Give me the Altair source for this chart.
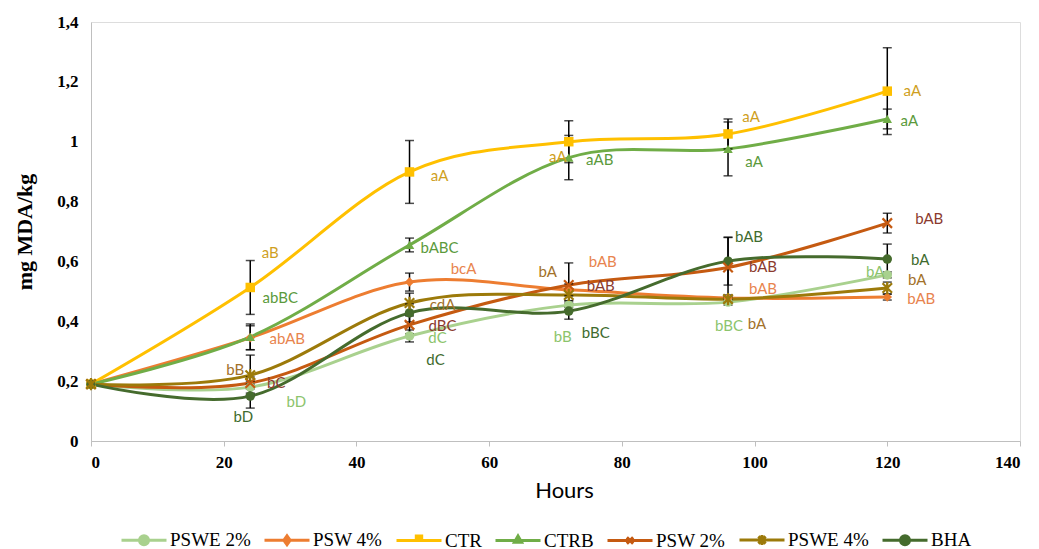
import altair as alt
import pandas as pd

# ---------------- data ----------------
HOURS = [0, 24, 48, 72, 96, 120]
SERIES = ["PSWE 2%", "PSW 4%", "CTR", "CTRB", "PSW 2%", "PSWE 4%", "BHA"]

PSWE2 = [0.19, 0.18, 0.351, 0.454, 0.464, 0.555]
PSW4 = [0.19, 0.345, 0.531, 0.505, 0.478, 0.481]
CTR = [0.19, 0.513, 0.899, 1.0, 1.026, 1.169]
CTRB = [0.19, 0.348, 0.655, 0.947, 0.976, 1.076]
PSW2 = [0.19, 0.194, 0.388, 0.521, 0.58, 0.728]
PSWE4 = [0.19, 0.22, 0.461, 0.488, 0.474, 0.511]
BHA = [0.19, 0.15, 0.428, 0.434, 0.601, 0.608]

E_PSWE2 = [0, 0.02, 0.02, 0.015, 0.01, 0.01]
E_PSW4 = [0, 0.04, 0.03, 0.02, 0.01, 0.01]
E_CTR = [0, 0.09, 0.105, 0.07, 0.05, 0.145]
E_CTRB = [0, 0.043, 0.023, 0.074, 0.09, 0.033]
E_PSW2 = [0, 0.02, 0.03, 0.074, 0.1, 0.033]
E_PSWE4 = [0, 0.067, 0.033, 0.02, 0.01, 0.02]
E_BHA = [0, 0.04, 0.03, 0.027, 0.08, 0.05]

L_PSWE2 = ["", "bD", "dC", "bB", "bBC", "bA"]
L_PSW4 = ["", "abAB", "bcA", "bAB", "bAB", "bAB"]
L_CTR = ["", "aB", "aA", "aA", "aA", "aA"]
L_CTRB = ["", "abBC", "bABC", "aAB", "aA", "aA"]
L_PSW2 = ["", "bC", "dBC", "bAB", "bAB", "bAB"]
L_PSWE4 = ["", "bB", "cdA", "bA", "bA", "bA"]
L_BHA = ["", "bD", "dC", "bBC", "bAB", "bA"]

# ---------------- styling (not data) ----------------
COLORS = ["#A9D18E", "#ED7D31", "#FFC000", "#70AD47", "#C55A11", "#9C7A0A", "#456B2D"]
LABEL_COLORS = ["#8CC46C", "#E8844E", "#CF9F1E", "#5B9A3C", "#8B3A2E", "#A2712A", "#3E6B2E"]
XPATH = "M-1,-1L1,1M-1,1L1,-1"
STARPATH = "M-1,-1L1,1M-1,1L1,-1M0,-1.3L0,1.3"
SHAPES = ["circle", "diamond", "square", "triangle-up", XPATH, STARPATH, "circle"]
LEG_PATHS = [
    "M-1,0L1,0M0.2,0A0.2,0.2,0,1,1,-0.2,0A0.2,0.2,0,1,1,0.2,0Z",
    "M-1,0L1,0M0,-0.2L0.14,0L0,0.2L-0.14,0Z",
    "M-1,0L1,0M-0.12,-0.2L0.12,-0.2L0.12,0L-0.12,0Z",
    "M-1,0L1,0M0,-0.2L0.16,0.08L-0.16,0.08Z",
    "M-1,0L1,0M-0.14,-0.14L0.14,0.14M-0.14,0.14L0.14,-0.14",
    "M-1,0L1,0M-0.16,-0.16L0.16,0.16M-0.16,0.16L0.16,-0.16M0,-0.22L0,0.22",
    "M-1,0L1,0M0.2,0A0.2,0.2,0,1,1,-0.2,0A0.2,0.2,0,1,1,0.2,0Z",
]
# label offsets in pixels (dx, dy) relative to each point
OFF = {
    "PSWE 2%": [(0, 0), (46, 15), (28, 2), (-6, 32), (1, 24), (-12, -3)],
    "PSW 4%": [(0, 0), (37, 1), (54, -13), (34, -28), (35, -9), (34, 2)],
    "CTR": [(0, 0), (20, -34), (30, 4), (-11, 15), (23, -17), (25, 0)],
    "CTRB": [(0, 0), (30, -39), (30, 3), (31, 2), (26, 13), (22, 2)],
    "PSW 2%": [(0, 0), (26, 0), (33, 1), (32, 1), (35, 0), (42, -4)],
    "PSWE 4%": [(0, 0), (-15, -5), (33, 2), (-21, -23), (29, 25), (30, -8)],
    "BHA": [(0, 0), (-7, 21), (26, 47), (27, 22), (21, -24), (33, 1)],
}

W, H = 929, 419
PX_X = W / 140.0
PX_Y = H / 1.4

values = [PSWE2, PSW4, CTR, CTRB, PSW2, PSWE4, BHA]
errors = [E_PSWE2, E_PSW4, E_CTR, E_CTRB, E_PSW2, E_PSWE4, E_BHA]
letters = [L_PSWE2, L_PSW4, L_CTR, L_CTRB, L_PSW2, L_PSWE4, L_BHA]

rows, erows, lrows = [], [], []
for i, s in enumerate(SERIES):
    for j, h in enumerate(HOURS):
        v = values[i][j]
        rows.append({"series": s, "order": i, "hour": h, "value": v})
        e = errors[i][j]
        if e > 0:
            erows.append({"series": s, "hour": h, "lo": v - e, "hi": v + e})
        t = letters[i][j]
        if t:
            dx, dy = OFF[s][j]
            lrows.append({"series": s, "text": t, "lx": h + dx / PX_X,
                          "ly": v - dy / PX_Y, "col": LABEL_COLORS[i]})

df = pd.DataFrame(rows)
edf = pd.DataFrame(erows)
ldf = pd.DataFrame(lrows)

color_scale = alt.Scale(domain=SERIES, range=COLORS)
shape_scale = alt.Scale(domain=SERIES, range=SHAPES)
leg_shape_scale = alt.Scale(domain=SERIES, range=LEG_PATHS)

x_enc = alt.X("hour:Q", scale=alt.Scale(domain=[0, 140], nice=False),
              axis=alt.Axis(values=[0, 20, 40, 60, 80, 100, 120, 140], title="Hours",
                            grid=False, domainColor="#BFBFBF", tickColor="#BFBFBF",
                            tickSize=5, labelFont="Liberation Serif", labelFontWeight="bold",
                            labelFontSize=17, labelColor="black", labelPadding=8,
                            titleFont="Lato", titleFontSize=22, titleFontWeight="normal",
                            titleColor="black", titlePadding=10, titleX=473))
y_enc = alt.Y("value:Q", scale=alt.Scale(domain=[0, 1.4], nice=False),
              axis=alt.Axis(values=[0, 0.2, 0.4, 0.6, 0.8, 1.0, 1.2, 1.4],
                            labelExpr="replace(format(datum.value, '.1~f'), '.', ',')",
                            title="mg MDA/kg", grid=False, ticks=False, tickSize=0,
                            domainColor="#BFBFBF", labelFont="Liberation Serif",
                            labelFontWeight="bold", labelFontSize=17, labelColor="black",
                            labelPadding=13, titleFont="Liberation Serif",
                            titleFontSize=22, titleFontWeight="bold", titleColor="black",
                            titlePadding=20))

legend = alt.Legend(
    title=None, orient="none", legendX=29, legendY=494, direction="horizontal",
    columns=7, symbolSize=2025, symbolStrokeWidth=3, labelFont="Liberation Serif",
    labelFontSize=19, labelColor="black", labelOffset=2, columnPadding=7, padding=0,
    symbolOpacity=1,
)

base = alt.Chart(df)

lines = base.mark_line(interpolate="cardinal", tension=0, strokeWidth=3).encode(
    x=x_enc, y=y_enc,
    color=alt.Color("series:N", scale=color_scale, legend=None),
    order="hour:Q",
)

ebase = alt.Chart(edf)
erule = ebase.mark_rule(color="black", strokeWidth=1.5).encode(
    x="hour:Q", y="lo:Q", y2="hi:Q")
ecap_lo = ebase.mark_tick(color="black", thickness=1.5, size=9, orient="horizontal").encode(
    x="hour:Q", y="lo:Q")
ecap_hi = ebase.mark_tick(color="black", thickness=1.5, size=9, orient="horizontal").encode(
    x="hour:Q", y="hi:Q")

points = base.mark_point(filled=True, size=90, opacity=1).encode(
    x="hour:Q", y="value:Q",
    color=alt.Color("series:N", scale=color_scale, legend=None),
    shape=alt.Shape("series:N", scale=shape_scale, legend=None),
)

spoints = base.transform_filter(
    alt.FieldOneOfPredicate(field="series", oneOf=["PSW 2%", "PSWE 4%"])
).mark_point(filled=False, size=90, strokeWidth=2.2, opacity=1).encode(
    x="hour:Q", y="value:Q",
    color=alt.Color("series:N", scale=color_scale, legend=None),
    shape=alt.Shape("series:N", scale=shape_scale, legend=None),
)

# invisible carrier layer that only provides the legend (line + marker symbols)
carrier = base.mark_point(filled=True, opacity=0).encode(
    x="hour:Q", y="value:Q",
    fill=alt.Fill("series:N", scale=color_scale, legend=legend),
    stroke=alt.Stroke("series:N", scale=color_scale, legend=legend),
    shape=alt.Shape("series:N", scale=leg_shape_scale, legend=legend),
)

labels = alt.Chart(ldf).mark_text(font="Lato", fontSize=15, align="center",
                                  baseline="middle").encode(
    x="lx:Q", y="ly:Q", text="text:N", fill=alt.Fill("col:N", scale=None))

chart = alt.layer(lines, erule, ecap_lo, ecap_hi, points, spoints, carrier, labels).resolve_scale(
    shape="independent", fill="independent", stroke="independent"
).properties(
    width=W, height=H,
    autosize=alt.AutoSizeParams(type="none"),
    padding={"left": 83, "top": 14, "right": 10, "bottom": 130},
).configure_view(stroke=None).configure(background="white")

chart.save("out.html", embed_options={"renderer": "svg", "actions": False})
